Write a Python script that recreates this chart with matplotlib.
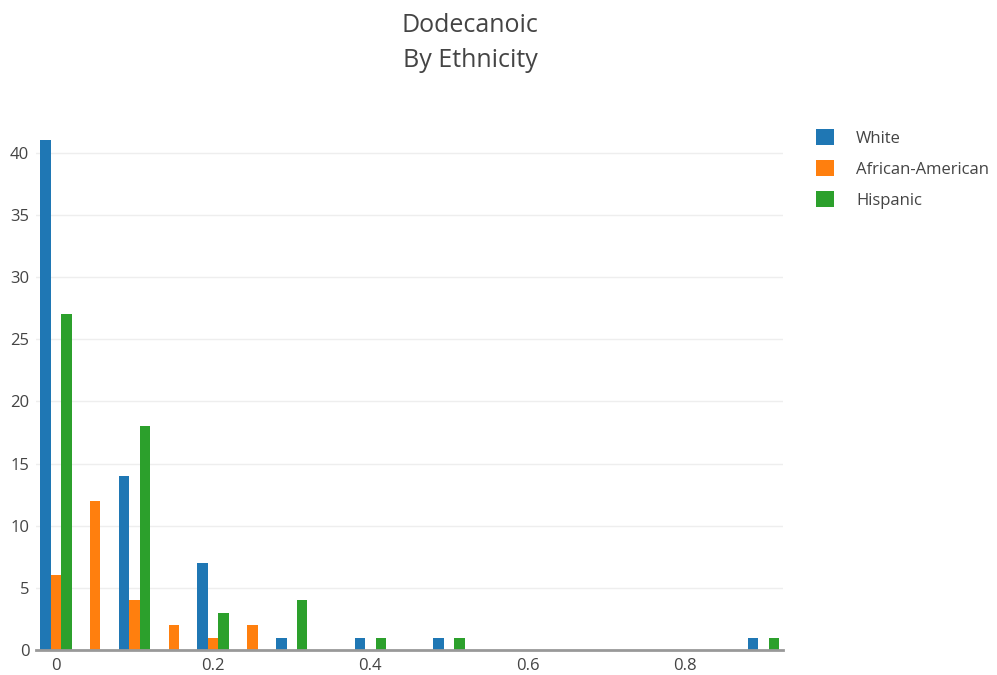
import matplotlib
matplotlib.use("Agg")
import matplotlib.pyplot as plt
import numpy as np

plt.rcParams['font.family'] = ['Open Sans', 'DejaVu Sans']

title = "Dodecanoic\nBy Ethnicity"
series_names = ["White", "African-American", "Hispanic"]
colors = ["#1f77b4", "#ff7f0e", "#2ca02c"]

white_bins = [0.0, 0.1, 0.2, 0.3, 0.4, 0.5, 0.9]
white_counts = [41, 14, 7, 1, 1, 1, 1]
aa_bins = [0.0, 0.05, 0.1, 0.15, 0.2, 0.25]
aa_counts = [6, 12, 4, 2, 1, 2]
hisp_bins = [0.0, 0.1, 0.2, 0.3, 0.4, 0.5, 0.9]
hisp_counts = [27, 18, 3, 4, 1, 1, 1]

x_ticks = [0, 0.2, 0.4, 0.6, 0.8]
x_tick_labels = ["0", "0.2", "0.4", "0.6", "0.8"]
y_ticks = [0, 5, 10, 15, 20, 25, 30, 35, 40]

W, H = 997, 675
fig = plt.figure(figsize=(W / 100, H / 100), dpi=100)
ax = fig.add_axes([36.3 / W, 1 - 650 / H, 746.7 / W, (650 - 115) / H])

min_bin = 0.05
bw = min_bin * 0.8 / 3
data = [(white_bins, white_counts), (aa_bins, aa_counts), (hisp_bins, hisp_counts)]
handles = []
for i, ((bins, counts), name, c) in enumerate(zip(data, series_names, colors)):
    off = (i - 1) * bw
    h = ax.bar(np.array(bins) + off, counts, width=bw, color=c, label=name,
               linewidth=0, zorder=3)
    handles.append(h)

ax.set_xlim(-0.025, 0.925)
ax.set_ylim(0, 43.05)
ax.set_yticks(y_ticks)
ax.set_yticklabels([str(v) for v in y_ticks])
ax.set_xticks(x_ticks)
ax.set_xticklabels(x_tick_labels)
ax.tick_params(axis='both', length=0, labelsize=12, labelcolor="#444444")
ax.tick_params(axis='y', pad=5)
ax.tick_params(axis='x', pad=6)
ax.yaxis.grid(True, color="#eeeeee", linewidth=1, zorder=0)
ax.xaxis.grid(False)
for s in ["top", "right", "left"]:
    ax.spines[s].set_visible(False)
ax.spines["bottom"].set_color("#999999")
ax.spines["bottom"].set_linewidth(2)
ax.spines["bottom"].set_zorder(4)

fig.text(470 / W, 1 - 43 / H, title, ha="center", va="center", fontsize=18,
         color="#444444", linespacing=1.5)

leg = fig.legend(handles=handles, labels=series_names, loc="upper left",
                 bbox_to_anchor=(801 / W, 1 - 114 / H), frameon=False,
                 handlelength=1.1, handleheight=1.1, handletextpad=1.3,
                 labelspacing=0.8, fontsize=12, labelcolor="#444444")

fig.savefig("out.png", dpi=100)
